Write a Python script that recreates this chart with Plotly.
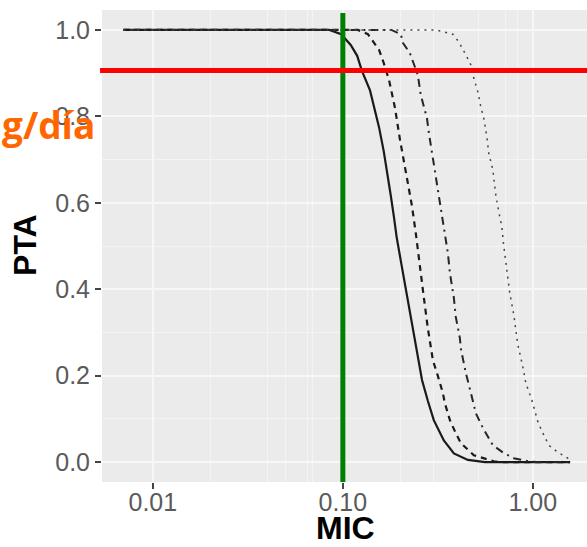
import plotly.graph_objects as go
import math

# ---- data ----
mic_a = [0.007, 0.085, 0.098, 0.110, 0.119, 0.126, 0.139, 0.146, 0.155, 0.164, 0.173, 0.179,
         0.186, 0.192, 0.202, 0.215, 0.228, 0.242, 0.261, 0.280, 0.301, 0.340, 0.384, 0.455, 0.56, 1.57]
pta_a = [1.0, 1.0, 0.99, 0.965, 0.94, 0.905, 0.86, 0.82, 0.775, 0.72, 0.66, 0.615,
         0.565, 0.52, 0.465, 0.398, 0.329, 0.27, 0.19, 0.142, 0.097, 0.05, 0.02, 0.005, 0.0, 0.0]

mic_b = [0.007, 0.12, 0.1355, 0.155, 0.164, 0.175, 0.188, 0.200, 0.215, 0.223, 0.231, 0.242, 0.248,
         0.257, 0.267, 0.280, 0.287, 0.298, 0.316, 0.336, 0.344, 0.366, 0.393, 0.418, 0.489, 0.552,
         0.623, 0.70, 1.57]
pta_b = [1.0, 1.0, 0.99, 0.954, 0.924, 0.884, 0.82, 0.745, 0.669, 0.63, 0.593, 0.53, 0.49,
         0.43, 0.38, 0.31, 0.277, 0.235, 0.2, 0.16, 0.137, 0.097, 0.067, 0.044, 0.016, 0.009,
         0.002, 0.0, 0.0]

mic_c = [0.007, 0.18, 0.202, 0.207, 0.225, 0.248, 0.257, 0.277, 0.284, 0.298, 0.316, 0.328, 0.340,
         0.357, 0.366, 0.384, 0.393, 0.413, 0.418, 0.444, 0.472, 0.501, 0.546, 0.616, 0.703, 0.794,
         0.942, 1.05, 1.57]
pta_c = [1.0, 1.0, 0.99, 0.97, 0.947, 0.896, 0.85, 0.796, 0.76, 0.70, 0.634, 0.583, 0.537,
         0.484, 0.4375, 0.38, 0.336, 0.287, 0.262, 0.206, 0.16, 0.113, 0.079, 0.039, 0.021, 0.009,
         0.002, 0.0, 0.0]

mic_d = [0.007, 0.31, 0.379, 0.408, 0.444, 0.472, 0.489, 0.514, 0.532, 0.552, 0.573, 0.586, 0.616,
         0.638, 0.662, 0.687, 0.703, 0.738, 0.756, 0.794, 0.814, 0.834, 0.886, 0.918, 0.988, 1.063,
         1.129, 1.214, 1.355, 1.528, 1.57]
pta_d = [1.0, 1.0, 0.99, 0.972, 0.942, 0.919, 0.888, 0.856, 0.822, 0.795, 0.752, 0.715, 0.676,
         0.618, 0.579, 0.544, 0.5, 0.428, 0.391, 0.34, 0.3, 0.271, 0.22, 0.183, 0.1435, 0.093,
         0.067, 0.039, 0.023, 0.009, 0.008]

x_tickvals = [0.01, 0.1, 1.0]
x_ticktext = ["0.01", "0.10", "1.00"]
y_tickvals = [0.0, 0.2, 0.4, 0.6, 0.8, 1.0]
y_ticktext = ["0.0", "0.2", "0.4", "0.6", "0.8", "1.0"]
x_minor_grid = [0.02, 0.04, 0.05, 0.0655, 0.0695, 0.2, 0.3, 0.52, 0.72, 0.83]
y_minor_grid = [0.1, 0.3, 0.5, 0.7, 0.9]

pta_target = 0.906   # red horizontal line
mic_cut = 0.1        # green vertical line
unit_text = "g/día"

fig = go.Figure()
styles = [
    (mic_a, pta_a, "solid", 2.2, "#1a1a1a"),
    (mic_b, pta_b, "6px,5px", 2.2, "#1a1a1a"),
    (mic_c, pta_c, "2px,5px,8px,5px", 2.0, "#262626"),
    (mic_d, pta_d, "2px,5px", 1.5, "#444444"),
]
for mx, py, dash, w, col in styles:
    fig.add_trace(go.Scatter(x=mx, y=py, mode="lines",
                             line=dict(color=col, width=w, dash=dash),
                             showlegend=False, hoverinfo="skip"))

tickfont = dict(family="Liberation Sans, Arial, sans-serif", size=25, color="#5a5a5a")
fig.update_layout(
    width=587, height=547, autosize=False,
    margin=dict(l=102, r=0, t=10, b=65, pad=0),
    paper_bgcolor="white", plot_bgcolor="#EBEBEB",
    showlegend=False,
    xaxis=dict(type="log", range=[math.log10(0.0054), 0.285], automargin=False,
               tickmode="array", tickvals=x_tickvals, ticktext=x_ticktext,
               ticks="outside", ticklen=6, tickwidth=1.5, tickcolor="#444444",
               ticklabelstandoff=-8,
               tickfont=tickfont, showgrid=True, gridcolor="#F7F7F7", gridwidth=1.6,
               zeroline=False, showline=False,
               minor=dict(tickmode="array", tickvals=x_minor_grid, showgrid=True,
                          gridcolor="#F4F4F4", gridwidth=0.9, ticks="")),
    yaxis=dict(range=[-0.046, 1.046], automargin=False,
               tickmode="array", tickvals=y_tickvals, ticktext=y_ticktext,
               ticks="outside", ticklen=6, tickwidth=1.5, tickcolor="#444444",
               tickfont=tickfont, showgrid=True, gridcolor="#F7F7F7", gridwidth=1.6,
               zeroline=False, showline=False,
               minor=dict(tickmode="array", tickvals=y_minor_grid, showgrid=True,
                          gridcolor="#F4F4F4", gridwidth=0.9, ticks="")),
)

# overlay lines
fig.add_shape(type="line", xref="x", yref="y", x0=mic_cut, x1=mic_cut, y0=-0.046, y1=1.039,
              line=dict(color="#008000", width=5), layer="above")
fig.add_shape(type="line", xref="paper", yref="y", x0=-0.004, x1=1.0, y0=pta_target, y1=pta_target,
              line=dict(color="#FF0000", width=5), layer="above")

titlefont = dict(family="Liberation Sans, Arial, sans-serif", size=32, color="black", weight="bold")
fig.add_annotation(text="MIC", xref="paper", yref="paper", x=0.503, y=-0.098,
                   xanchor="center", yanchor="middle", showarrow=False, font=titlefont)
fig.add_annotation(text="PTA", xref="paper", yref="paper", x=-0.159, y=0.502, textangle=-90,
                   xanchor="center", yanchor="middle", showarrow=False, font=titlefont)
fig.add_annotation(text=unit_text, xref="paper", yref="paper", x=-0.2103, y=0.758,
                   xanchor="left", yanchor="middle", showarrow=False,
                   font=dict(family="Open Sans", size=37, color="#FF6600", weight="bold"))

fig.write_html("out.html", config={"displayModeBar": False},
               post_script="document.body.style.margin='0';document.body.style.padding='0';")
